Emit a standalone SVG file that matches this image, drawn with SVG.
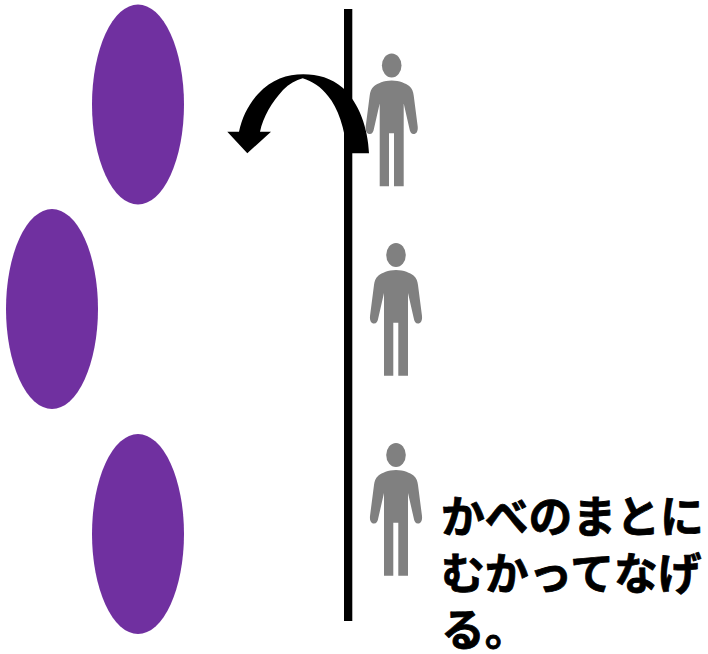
<svg xmlns="http://www.w3.org/2000/svg" width="708" height="654" viewBox="0 0 708 654">
<style>
.o{fill:#7030a0}
.p{fill:#808080}
.t{font-family:"Noto Sans CJK JP","Noto Sans CJK SC",sans-serif;font-weight:700;font-size:43.800px;fill:#000;stroke:#000;stroke-width:.8px;stroke-linejoin:round}
</style>
<defs>
<g id="person">
<ellipse class="p" cx="396" cy="455" rx="9.800" ry="12"/>
<path class="p" d="M396 470C388 470 382 473 378.500 475.500C375.500 478 374.500 481 374 485L370 516C369.500 521 371.500 523.500 374 523.500C376.500 523.500 377.800 521.500 378.300 518L384 493V575.700H393.300V522.700H398.300V575.700H408V493L413.700 518C414.200 521.500 415.500 523.500 418 523.500C420.500 523.500 422.500 521 422 516L418 485C417.500 481 416.500 478 413.500 475.500C410 473 404 470 396 470Z"/>
</g>
</defs>
<g id="targets">
<ellipse id="target1" class="o" cx="138" cy="104.500" rx="46" ry="100"/>
<ellipse id="target2" class="o" cx="52" cy="309" rx="46" ry="100"/>
<ellipse id="target3" class="o" cx="138" cy="534" rx="46" ry="100"/>
</g>
<g id="connectors">
<rect x="344" y="9" width="8.300" height="612" fill="#000"/>
<path id="throw-arrow" fill="#000" d="M369 153.300C368 128 359 103 343 88C331 78 318 74.300 303.300 74.300C287 74.300 272 79 258 94C248 105 242 118 239 131.700H227.300L247.300 153.300L271 131.700H260C263 117 272 102 283 90C289 84 296 80 302.700 78.300C312 81 321 87 328 96C338 108 345 128 347 153.300Z"/>
</g>
<g id="person1"><use href="#person" x="-4.300" y="-389.500"/></g>
<g id="person2"><use href="#person" x="0" y="-200"/></g>
<g id="person3"><use href="#person"/></g>
<g id="label">
<text class="t" x="441" y="533">かべのまとに</text>
<text class="t" x="441" y="590">むかってなげ</text>
<text class="t" x="441" y="646">る。</text>
</g>
</svg>
